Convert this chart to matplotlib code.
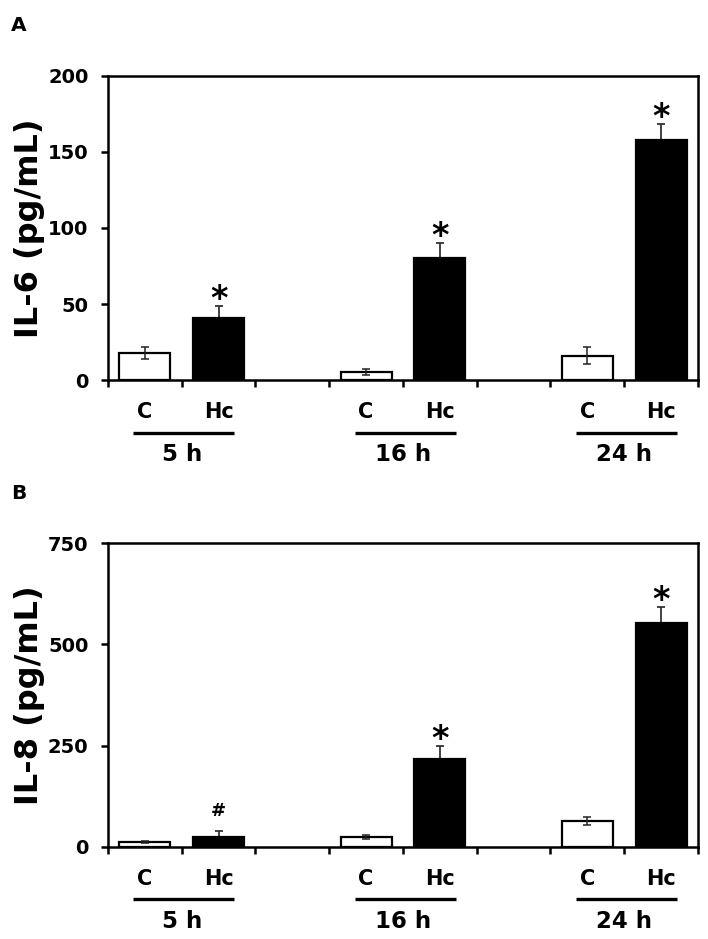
import matplotlib
matplotlib.use("Agg")
import matplotlib.pyplot as plt
import numpy as np

plt.rcParams['font.family'] = ['DejaVu Sans']
plt.rcParams['font.weight'] = 'bold'

# data
groups = ["5 h", "16 h", "24 h"]
conditions = ["C", "Hc"]

il6_c = [18, 5, 16]
il6_c_err = [4, 2, 5.5]
il6_hc = [41, 80, 158]
il6_hc_err = [7.5, 10, 10.5]
il6_marks = ["*", "*", "*"]

il8_c = [11, 24, 64]
il8_c_err = [3, 5, 10]
il8_hc = [25, 216, 553]
il8_hc_err = [14, 32, 39]
il8_marks = ["#", "*", "*"]

il6_ticks = [0, 50, 100, 150, 200]
il8_ticks = [0, 250, 500, 750]

BAR_W = 0.69
LW = 1.8


def panel(ax, c, c_err, hc, hc_err, marks, ticks, ylabel, letter):
    x_c = np.arange(len(groups)) * 3
    x_hc = x_c + 1
    ax.bar(x_c, c, width=BAR_W, color='white', edgecolor='black', linewidth=1.6, zorder=2)
    ax.bar(x_hc, hc, width=BAR_W, color='black', edgecolor='black', linewidth=1.6, zorder=2)
    ax.errorbar(x_c, c, yerr=c_err, fmt='none', ecolor='#222222', elinewidth=1.1,
                capsize=3, capthick=1.1, zorder=3)
    ax.errorbar(x_hc, hc, yerr=hc_err, fmt='none', ecolor='#333333', elinewidth=1.3,
                capsize=3, capthick=1.3, zorder=1)

    for xi, yi, ei, m in zip(x_hc, hc, hc_err, marks):
        if m == "*":
            ax.annotate(m, (xi, yi + ei), xytext=(0, -2), textcoords='offset points',
                        ha='center', va='baseline', fontsize=24, fontweight='bold')
        else:
            ax.annotate(m, (xi, yi + ei), xytext=(0, 11), textcoords='offset points',
                        ha='center', va='baseline', fontsize=13, fontweight='bold')

    last = x_hc[-1]
    ax.set_xlim(-0.5, last + 0.5)
    ax.set_ylim(ticks[0], ticks[-1])
    ax.set_yticks(ticks)
    ax.set_yticklabels([str(t) for t in ticks], fontsize=14, fontweight='bold')

    # category boundaries as major ticks, names as minor ticks
    ax.set_xticks(np.arange(-0.5, last + 0.6, 1.0))
    ax.set_xticklabels([])
    centers = np.concatenate([x_c, x_hc])
    names = [conditions[0]] * len(groups) + [conditions[1]] * len(groups)
    ax.set_xticks(centers, minor=True)
    ax.set_xticklabels(names, minor=True, fontsize=15, fontweight='bold')
    ax.tick_params(axis='x', which='minor', length=0, pad=16)
    ax.tick_params(axis='both', which='major', direction='out', length=5, width=LW)
    ax.tick_params(axis='y', pad=9)

    for s in ax.spines.values():
        s.set_linewidth(LW)

    ax.set_ylabel(ylabel, fontsize=23, fontweight='bold')
    ax.yaxis.set_label_coords(-0.107, 0.5)

    tr = ax.get_xaxis_transform()
    for xi, g in zip(x_c, groups):
        mid = xi + 0.5 + 0.03
        ax.plot([mid - 0.685, mid + 0.685], [-0.174, -0.174], transform=tr,
                color='black', lw=2.4, clip_on=False, solid_capstyle='butt')
        ax.text(xi + 0.5, -0.245, g, transform=tr, ha='center', va='center',
                fontsize=16.5, fontweight='bold')

    ax.text(-0.152, 1.0 + 50 / 304, letter, transform=ax.transAxes, ha='center',
            va='center', fontsize=14.5, fontweight='bold')


fig = plt.figure(figsize=(7.08, 9.39), dpi=100)
ax1 = fig.add_axes([0.1525, 0.5953, 0.8333, 0.3238])
ax2 = fig.add_axes([0.1525, 0.0983, 0.8333, 0.3231])

panel(ax1, il6_c, il6_c_err, il6_hc, il6_hc_err, il6_marks, il6_ticks, "IL-6 (pg/mL)", "A")
panel(ax2, il8_c, il8_c_err, il8_hc, il8_hc_err, il8_marks, il8_ticks, "IL-8 (pg/mL)", "B")

fig.savefig("out.png", dpi=100)
